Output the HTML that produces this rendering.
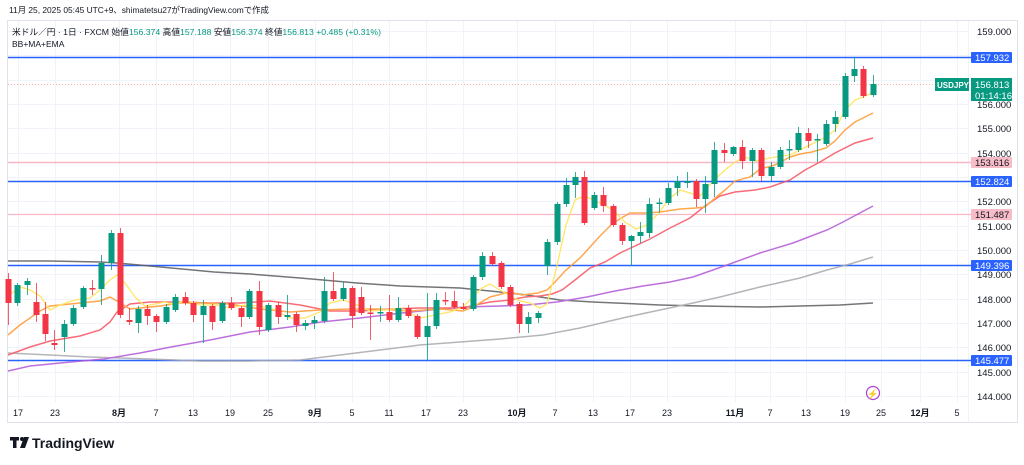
<!DOCTYPE html>
<html><head><meta charset="utf-8"><style>
body{margin:0;width:1024px;height:465px;background:#fff;overflow:hidden;font-family:"Liberation Sans","Noto Sans CJK JP",sans-serif}
svg{position:absolute;left:0;top:0}
</style></head><body>
<svg id="s" width="1024" height="465" xmlns="http://www.w3.org/2000/svg" font-family="Liberation Sans, Noto Sans CJK JP, sans-serif">
<text x="9" y="13" font-size="8.4" fill="#131722">11月 25, 2025 05:45 UTC+9、shimatetsu27がTradingView.comで作成</text>
<rect x="7.5" y="20.5" width="1010" height="402" fill="none" stroke="#e0e3eb"/>
<g id="grid" stroke="#f0f3fa" stroke-width="1"></g>
<line x1="968.5" y1="21" x2="968.5" y2="422" stroke="#f0f3fa"/>
<g id="hl"></g>
<g id="lines" fill="none" stroke-width="1.5" opacity="0.85"></g>
<g id="c"></g>
<g id="ax" font-size="9.5" fill="#131722"></g>
<text x="12" y="35" font-size="8.7" fill="#131722">米ドル／円 · 1日 · FXCM  始値<tspan fill="#089981">156.374</tspan>  高値<tspan fill="#089981">157.188</tspan>  安値<tspan fill="#089981">156.374</tspan>  終値<tspan fill="#089981">156.813  +0.485 (+0.31%)</tspan></text>
<text x="12" y="47" font-size="8.5" fill="#131722">BB+MA+EMA</text>
<circle cx="873" cy="393" r="6.5" fill="#fff" stroke="#b040d0" stroke-width="1.2"/>
<text x="873" y="397" font-size="9" fill="#b040d0" text-anchor="middle">⚡</text>
<g transform="translate(10,437)"><rect x="0" y="0" width="9" height="3.5" fill="#131722"/><rect x="3" y="0" width="3.5" height="11" fill="#131722"/><circle cx="12" cy="2" r="2" fill="#131722"/><polygon points="14,0 19,0 15,11 10,11" fill="#131722"/></g>
<text x="32" y="448" font-size="14" font-weight="bold" fill="#131722">TradingView</text>
</svg>
<script>
var NS="http://www.w3.org/2000/svg";
function el(p,t,a,txt){var e=document.createElementNS(NS,t);for(var k in a)e.setAttribute(k,a[k]);if(txt!=null)e.textContent=txt;document.getElementById(p).appendChild(e);return e;}
function Y(p){return 31+(159-p)*24.33;}
var tl=[[18,"17"],[55,"23"],[119,"8月"],[156,"7"],[193,"13"],[230,"19"],[268,"25"],[315,"9月"],[352,"5"],[389,"11"],[426,"17"],[463,"23"],[517,"10月"],[555,"7"],[593,"13"],[630,"17"],[667,"23"],[735,"11月"],[770,"7"],[806,"13"],[845,"19"],[881,"25"],[920,"12月"],[957,"5"]];
tl.forEach(function(t){el("grid","line",{x1:t[0]+.5,y1:21,x2:t[0]+.5,y2:402});var e=el("ax","text",{x:t[0],y:416,"text-anchor":"middle","font-size":"9"},t[1]);if(t[1].indexOf("月")>0)e.setAttribute("font-weight","bold");});
for(var p=144;p<=159;p++){var y=Math.round(Y(p))+.5;el("grid","line",{x1:8,y1:y,x2:968,y2:y});if(p!=157&&p!=153)el("ax","text",{x:977,y:y+3.5},p+".000");}
el("hl","line",{x1:8,y1:84.5,x2:968,y2:84.5,stroke:"#f7a9b5","stroke-dasharray":"1,2"});
[[157.932,"#2962ff",1.5],[152.824,"#2962ff",1.5],[149.396,"#2962ff",1.5],[145.477,"#2962ff",1.5],[153.616,"#f7b6c3",1.5],[151.487,"#f7b6c3",1.2]].forEach(function(h){var y=Math.round(Y(h[0]))+.5;el("hl","line",{x1:8,y1:y,x2:1012,y2:y,stroke:h[1],"stroke-width":h[2]});var blue=h[1]=="#2962ff";el("ax","rect",{x:971,y:y-5.5,width:41,height:11,fill:blue?"#2962ff":"#f8bbc8",rx:1});el("ax","text",{x:975,y:y+3.5,fill:blue?"#fff":"#131722"},h[0].toFixed(3));});
el("ax","rect",{x:935,y:78,width:34,height:13,fill:"#089981"});el("ax","text",{x:937,y:88,fill:"#fff","font-size":"8","font-weight":"bold"},"USDJPY");
el("ax","rect",{x:971,y:78,width:41,height:23,fill:"#089981"});el("ax","text",{x:975,y:88,fill:"#fff"},"156.813");el("ax","text",{x:975,y:99,fill:"#fff"},"01:14:16");
function pl(c,pts,w){el("lines","polyline",{stroke:c,"stroke-width":w||1.5,points:pts.map(function(p){return p.join(",")}).join(" ")});}
pl("#5d5d60",[[8,261],[50,261],[100,262],[117,263],[150,266],[214,272],[250,274],[300,278],[357,283],[400,286],[460,288],[500,292],[527,295],[560,300],[593,302],[660,305],[700,306],[760,307],[800,306],[840,305],[873,303]]);
pl("#a9a9ad",[[8,353],[50,355],[89,357],[150,359],[200,361],[250,361],[300,360],[340,355],[380,350],[420,345],[460,342],[500,339],[543,335],[580,328],[627,317],[660,310],[693,303],[720,297],[760,287],[800,278],[827,270],[850,264],[873,257]]);
pl("#b258d8",[[8,371],[30,366],[60,363],[104,359],[140,353],[171,347],[210,340],[250,332],[290,327],[321,322],[360,318],[393,314],[430,310],[464,307],[500,306],[527,305],[557,302],[587,297],[615,291],[643,286],[670,282],[693,277],[727,265],[760,253],[793,243],[827,230],[843,222],[873,206]]);
pl("#f7525f",[[8,355],[30,347],[50,341],[80,336],[100,330],[110,322],[117,312],[130,304],[150,302],[180,302],[210,303],[240,303],[270,301],[300,305],[330,311],[360,311],[390,309],[420,308],[463,308],[475,305],[490,302],[510,300],[525,297],[540,296],[552,294],[562,290],[575,280],[590,268],[605,262],[620,253],[635,246],[650,239],[670,228],[690,218],[705,206],[720,196],[735,192],[755,190],[770,187],[790,180],[805,170],[820,162],[835,153],[855,143],[873,138]],1.5);
pl("#ff9830",[[8,335],[20,325],[40,311],[50,306],[70,304],[100,301],[110,297],[117,301],[130,309],[160,306],[180,303],[200,303],[230,304],[260,309],[290,312],[320,310],[350,309],[380,309],[410,311],[440,309],[463,311],[473,307],[490,297],[510,292],[522,295],[538,293],[547,290],[556,281],[565,271],[580,258],[600,236],[613,223],[630,213],[645,213],[660,212],[680,209],[696,208],[705,207],[714,199],[725,190],[735,181],[750,177],[760,169],[775,165],[790,157],[800,154],[812,152],[826,148],[835,141],[845,130],[855,122],[873,113]]);
pl("#ffe24a",[[8,296],[20,287],[30,290],[40,296],[50,310],[60,305],[75,300],[90,298],[100,290],[110,280],[117,275],[125,283],[135,297],[145,306],[155,304],[165,302],[175,305],[185,300],[200,305],[215,305],[230,308],[245,305],[260,306],[275,310],[290,318],[305,318],[320,312],[330,303],[343,300],[355,304],[370,311],[385,310],[400,308],[420,318],[435,315],[450,312],[463,307],[473,297],[482,288],[490,284],[500,290],[510,296],[520,301],[530,303],[540,308],[547,304],[556,270],[566,225],[575,200],[584,196],[594,200],[604,205],[613,210],[625,222],[636,229],[647,225],[659,213],[668,200],[680,190],[690,193],[700,196],[714,180],[725,170],[735,162],[745,157],[755,161],[765,159],[775,157],[790,155],[810,145],[826,137],[835,130],[845,110],[855,100],[863,97],[873,92]],1.3);
var C=[
[8,279,303,273,325,0],[17,285,303,283,306,1],[27,281,285,278,295,1],[36,302,315,283,322,0],[45,314,334,302,341,0],[54,343,345,330,350,0],[64,324,337,320,352,1],[73,308,324,305,326,1],[83,288,307,286,309,1],[92,288,289,280,295,0],[101,263,289,255,305,1],[111,233,263,230,270,1],[120,233,315,228,318,0],[129,320,322,308,325,0],[138,309,323,306,333,1],[147,309,316,305,325,0],[156,316,322,314,332,0],[166,307,322,304,324,1],[175,297,310,294,312,1],[185,297,303,292,305,0],[193,303,315,301,322,0],[203,306,315,300,343,1],[212,306,322,304,330,0],[222,303,321,301,323,1],[231,303,308,297,310,0],[241,308,317,306,327,0],[249,291,317,289,319,1],[259,291,327,281,335,0],[268,305,330,303,332,1],[278,305,317,302,324,0],[287,315,317,295,320,1],[296,314,325,312,332,0],[305,323,326,320,330,1],[314,320,323,316,329,1],[324,291,321,277,323,1],[333,291,299,272,301,0],[343,288,299,282,301,1],[352,288,316,286,328,0],[361,297,313,287,315,0],[370,312.5,313.5,305,340,0],[380,312,313.5,306,322,1],[389,312,320,295,322,0],[398,308,320,297,322,1],[408,308,316,305,318,0],[417,316,337,314,339,0],[427,326,337,293,361,1],[436,300,326,293,329,1],[445,300,301,292,305,0],[454,301,307,291,309,0],[463,307,309,303,310,0],
[473,277,309,275,311,1],[482,256,277,252,280,1],[492,256,264,252,266,0],[501,263,287,261,289,0],[510,287,305,285,307,0],[519,304,324,302,333,0],[528,317,324,312,333,1],[538,313,318,311,323,1],[547,242,266,239,275,1],[557,204,242,202,245,1],[566,185,204,178,207,1],[575,177,185,172,198,1],[584,177,223,171,225,0],[594,195,208,192,210,1],[603,195,206,187,212,0],[613,206,225,204,227,0],[622,225,241,223,245,0],[631,236,241,235,266,1],[640,232,236,222,243,1],[649,204,233,198,238,1],[659,202.5,204,198,213,1],[668,188,203,183,205,1],[677,181,188,176,196,1],[687,181,183,172,188,1],[696,181,199,179,207,0],[705,184,199,176,213,1],[714,150,184,142,197,1],[724,150,153,143,162,0],[733,147,154,146,156,1],[742,147,161,140,169,0],[752,150,161,148,177,1],[761,150,176,148,181,0],[771,167,176,162,181,1],[780,150,167,147,169,1],[789,149,150.5,140,160,1],[798,133,150,127,152,1],[808,133,141,128,148,0],[817,139,140.5,134,162,1],[826,124,144,120,146,1],[835,117,124,111,132,1],[845,76,117,73,119,1],[854,69,76,57,82,1],[863,69,96,66,98,0],[873,84,95,75,97,1]];
C.forEach(function(c){var col=c[5]?"#089981":"#f23645";el("c","line",{x1:c[0]+.5,y1:c[3],x2:c[0]+.5,y2:c[4],stroke:col,"stroke-width":1,opacity:.8});el("c","rect",{x:c[0]-2.5,y:c[1],width:6,height:Math.max(1.5,c[2]-c[1]),fill:col});});
</script>
</body></html>
